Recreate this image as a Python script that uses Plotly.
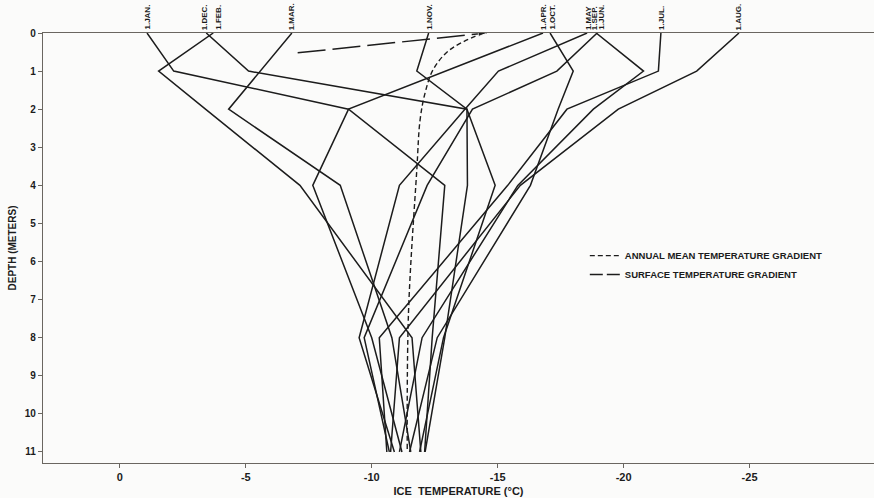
import plotly.graph_objects as go

# Measurement depths (m) for the monthly ice-temperature profiles
depths = [0, 1, 2, 4, 8, 11]

months = ["JAN", "FEB", "MAR", "APR", "MAY", "JUN",
          "JUL", "AUG", "SEP", "OCT", "NOV", "DEC"]

# Ice temperature (deg C) at each depth, first of each month
t_jan = [-1.08, -2.14, -9.08, -12.9, -12.4, -12.1]
t_feb = [-3.71, -1.54, -3.4, -7.15, -11.6, -11.95]
t_mar = [-6.83, -5.58, -4.32, -8.75, -10.8, -11.55]
t_apr = [-16.8, -12.94, -9.08, -7.66, -10.0, -11.2]
t_may = [-18.55, -15.03, -13.7, -11.1, -9.5, -10.9]
t_jun = [-18.95, -17.35, -14.0, -12.2, -9.7, -10.7]
t_jul = [-21.48, -21.38, -17.75, -15.4, -10.3, -10.6]
t_aug = [-24.58, -22.9, -19.79, -15.9, -11.1, -10.75]
t_sep = [-18.91, -20.79, -18.8, -15.8, -12.0, -11.1]
t_oct = [-17.08, -18.0, -17.4, -16.3, -12.6, -11.5]
t_nov = [-12.26, -11.79, -13.78, -14.9, -12.85, -11.9]
t_dec = [-3.43, -5.11, -13.78, -13.8, -12.9, -12.12]

profiles = [t_jan, t_feb, t_mar, t_apr, t_may, t_jun,
            t_jul, t_aug, t_sep, t_oct, t_nov, t_dec]

# Annual mean temperature gradient
mean_depth = [0, 0.44, 0.96, 1.57, 2.28, 3.59, 7.34, 11.0]
mean_temp = [-14.42, -13.1, -12.44, -12.12, -11.92, -11.79, -11.46, -11.41]

# Surface temperature gradient (arrow toward the surface value)
grad_depth = [0.52, 0.0]
grad_temp = [-7.06, -14.57]

x_ticks = [0, -5, -10, -15, -20, -25]
x_tick_text = ["0", "-5", "-10", "-15", "-20", "-25"]
y_ticks = list(range(0, 12))

# horizontal nudges (px) so neighbouring month labels do not overlap
label_shift = {"DEC": -2, "FEB": 5, "OCT": 2, "MAY": 1, "SEP": -2, "JUN": 4}

INK = "#1c1c1c"
AXIS = "#6a6660"
FONT = "Liberation Sans"

fig = go.Figure()

for name, temps in zip(months, profiles):
    fig.add_trace(go.Scatter(
        x=temps, y=depths, mode="lines", name=name, showlegend=False,
        line=dict(color=INK, width=1.5), hoverinfo="skip"))

fig.add_trace(go.Scatter(
    x=mean_temp, y=mean_depth, mode="lines", line_shape="spline",
    name="ANNUAL MEAN TEMPERATURE GRADIENT",
    line=dict(color=INK, width=1.4, dash="5px,3px")))

# surface gradient: long dashes in the plot, shorter ones in the key
fig.add_trace(go.Scatter(
    x=grad_temp, y=grad_depth, mode="lines", showlegend=False,
    legendgroup="surface", hoverinfo="skip",
    line=dict(color=INK, width=1.5, dash="28px,7px")))
fig.add_trace(go.Scatter(
    x=[None], y=[None], mode="lines", legendgroup="surface",
    name="SURFACE TEMPERATURE GRADIENT",
    line=dict(color=INK, width=1.5, dash="13px,4px")))

# arrowhead at the surface end of the gradient line
fig.add_trace(go.Scatter(
    x=grad_temp, y=grad_depth, mode="markers", showlegend=False,
    legendgroup="surface", hoverinfo="skip",
    marker=dict(symbol="arrow", size=[0, 9], angleref="previous", color=INK)))

for name, temps in zip(months, profiles):
    fig.add_annotation(
        x=temps[0], y=0, xref="x", yref="y",
        text="1." + name + ("" if name == "MAY" else "."),
        textangle=-90, showarrow=False, xanchor="center", yanchor="bottom",
        xshift=label_shift.get(name, 0), yshift=1,
        font=dict(family=FONT, size=8, color=INK, weight="bold"))

fig.update_layout(
    width=874, height=498,
    margin=dict(l=43, r=0, t=33, b=35),
    paper_bgcolor="#fbfbfa", plot_bgcolor="#fbfbfa",
    font=dict(family=FONT, color=INK),
    legend=dict(x=0.652, y=0.516, xanchor="left", yanchor="top",
                bgcolor="rgba(0,0,0,0)", borderwidth=0,
                font=dict(family=FONT, size=9.5, color=INK, weight="bold"),
                tracegroupgap=0),
)

fig.update_xaxes(
    range=[3.05, -29.94], tickvals=x_ticks, ticktext=x_tick_text,
    showgrid=False, zeroline=False, showline=True, mirror=True,
    linecolor=AXIS, linewidth=1.3, ticks="outside", ticklen=4, tickcolor=AXIS,
    tickfont=dict(family=FONT, size=11, color=INK, weight="bold"),
    title=dict(text="ICE  TEMPERATURE (°C)", standoff=4,
               font=dict(family=FONT, size=11, color=INK, weight="bold")))

fig.update_yaxes(
    range=[11.29, 0], tickvals=y_ticks,
    showgrid=False, zeroline=False, showline=True,
    linecolor=AXIS, linewidth=1.3, ticks="outside", ticklen=4, tickcolor=AXIS,
    tickfont=dict(family=FONT, size=10, color=INK, weight="bold"),
    title=dict(text="DEPTH (METERS)", standoff=6,
               font=dict(family=FONT, size=10, color=INK, weight="bold")))

fig.write_html("out.html")
